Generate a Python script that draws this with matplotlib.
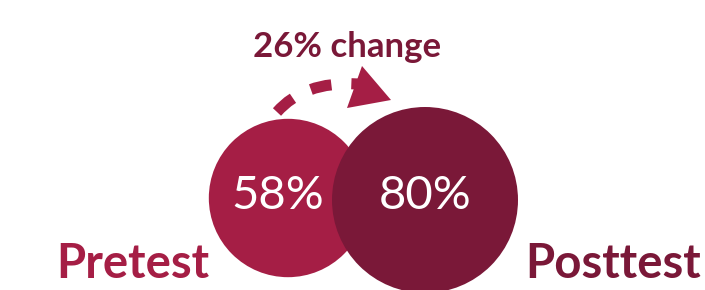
import matplotlib
matplotlib.use("Agg")
import matplotlib.pyplot as plt
from matplotlib.patches import Circle, Polygon, PathPatch
from matplotlib.path import Path
import numpy as np

labels = ["Pretest", "Posttest"]
values = [58, 80]
change_label = "26% change"

colors = ["#A51E45", "#7A1838"]
plt.rcParams['font.family'] = ['Lato', 'DejaVu Sans']

fig = plt.figure(figsize=(7.05, 2.9), dpi=100)
ax = fig.add_axes([0, 0, 1, 1])
ax.set_xlim(0, 705)
ax.set_ylim(290, 0)
ax.set_aspect('equal')
ax.axis('off')

k = 93 / np.sqrt(80)
centers = [(288, 198), (425, 200)]
text_x = [278, 425]
for (cx, cy), v, c, tx in zip(centers, values, colors, text_x):
    r = k * np.sqrt(v)
    ax.add_patch(Circle((cx, cy), r, facecolor=c, edgecolor='none'))
    ax.text(tx, 209, f"{v}%", color='white', fontsize=34, ha='center', va='baseline')

ax.text(133, 278, labels[0], color=colors[0], fontsize=34, fontweight='bold', ha='center', va='baseline')
ax.text(613, 278, labels[1], color=colors[1], fontsize=34, fontweight='bold', ha='center', va='baseline')

ax.text(347, 57, change_label, color=colors[1], fontsize=25, fontweight='bold', ha='center', va='baseline')

# dashed arc
verts = [(277, 112), (295, 92), (320, 82), (358, 84)]
path = Path(verts, [Path.MOVETO, Path.CURVE4, Path.CURVE4, Path.CURVE4])
ax.add_patch(PathPatch(path, facecolor='none', edgecolor=colors[0], lw=8,
                       linestyle=(0, (1.9, 1.8)), capstyle='butt'))
ax.add_patch(Polygon([(362, 66), (391, 100), (347, 108)], closed=True,
                     facecolor=colors[0], edgecolor='none'))

fig.savefig("out.png", dpi=100)
